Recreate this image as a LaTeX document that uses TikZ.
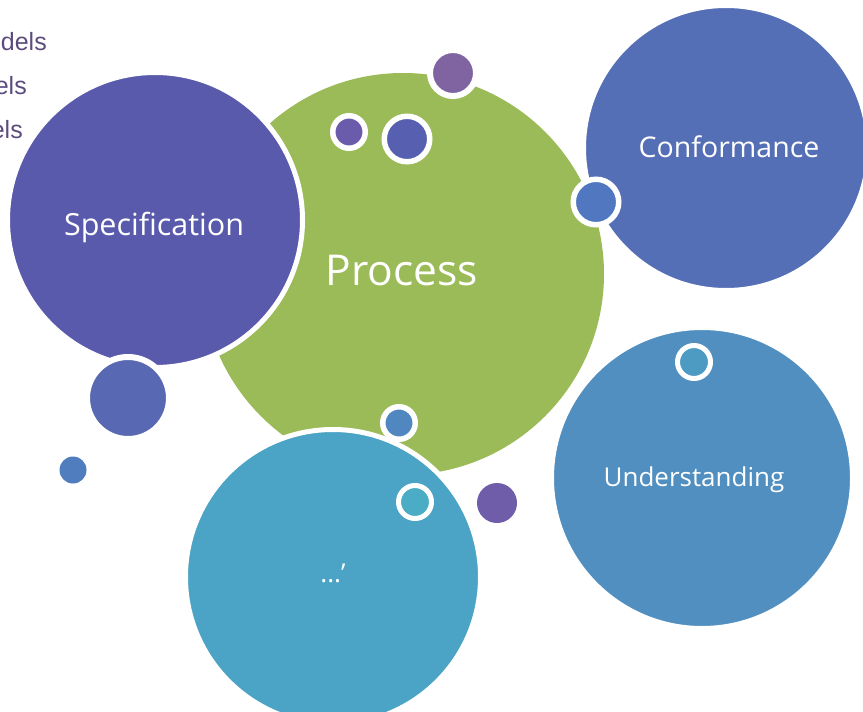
\documentclass[tikz,border=0pt]{standalone}
\usepackage{fontspec}
\setmainfont{Open Sans}
\newfontfamily\arialf{Liberation Sans}
\definecolor{cgreen}{RGB}{155,187,89}
\definecolor{cspec}{RGB}{90,90,172}
\definecolor{cconf}{RGB}{85,111,183}
\definecolor{cund}{RGB}{80,143,192}
\definecolor{cdots}{RGB}{75,163,197}
\definecolor{cbigdot}{RGB}{88,104,178}
\definecolor{csmalldot}{RGB}{80,125,190}
\definecolor{cpurpleA}{RGB}{128,100,162}
\definecolor{cpurpleB}{RGB}{107,91,171}
\definecolor{cblueA}{RGB}{87,96,176}
\definecolor{cblueB}{RGB}{80,119,191}
\definecolor{cblueC}{RGB}{80,135,192}
\definecolor{cteal}{RGB}{74,173,197}
\definecolor{cpurpleC}{RGB}{112,93,169}
\definecolor{cundsmall}{RGB}{77,154,194}
\definecolor{ctext}{RGB}{92,76,126}
\tikzset{
  bub/.style={circle, inner sep=0pt, outer sep=0pt, draw=white},
  lbl/.style={text=white, inner sep=0pt, anchor=base},
  side/.style={text=ctext, inner sep=0pt, anchor=base east, font=\arialf\fontsize{25}{30}\selectfont}
}
\begin{document}
\begin{tikzpicture}[x=1pt,y=-1pt]
\useasboundingbox (0,0) rectangle (863,712);
% side text
\node[side] (t1) at (47,50) {dels};
\node[side] (t2) at (27,94) {els};
\node[side] (t3) at (23,138) {els};
% big green
\node[bub, draw=none, fill=cgreen, minimum size=402pt] (proc) at (403,274) {};
% specification
\node[bub, fill=cspec, line width=5pt, minimum size=295pt] (spec) at (155,220) {};
% small circles on green
\node[bub, fill=cpurpleB, line width=5.5pt, minimum size=32.5pt] (s1) at (349,132) {};
\node[bub, fill=cblueA, line width=5.5pt, minimum size=45.5pt] (s2) at (407,139) {};
\node[bub, fill=cpurpleA, line width=6pt, minimum size=46pt] (s3) at (453,73) {};
% big dot below specification
\node[bub, fill=cbigdot, line width=6pt, minimum size=82pt] (s4) at (128,398) {};
\node[bub, draw=none, fill=csmalldot, minimum size=27pt] (s5) at (73,470) {};
% conformance
\node[bub, fill=cconf, line width=5pt, minimum size=285pt] (conf) at (726,148) {};
\node[bub, fill=cblueB, line width=5.5pt, minimum size=45.5pt] (s6) at (596,202) {};
% understanding
\node[bub, fill=cund, line width=5pt, minimum size=301pt] (und) at (702,478) {};
\node[bub, fill=cundsmall, line width=5pt, minimum size=33pt] (s7) at (694,362) {};
% dots circle
\node[bub, fill=cdots, line width=5pt, minimum size=295pt] (dots) at (333,577) {};
\node[bub, fill=cblueC, line width=5.5pt, minimum size=32.5pt] (s8) at (399,423) {};
\node[bub, fill=cteal, line width=5pt, minimum size=33pt] (s9) at (415,502) {};
\node[bub, draw=none, fill=cpurpleC, minimum size=40pt] (s10) at (497,503) {};
% labels
\node[lbl, font=\fontsize{30.5}{36}\selectfont] (lspec) at (154,235) {Specification};
\node[lbl, font=\fontsize{42.5}{50}\selectfont] (lproc) at (402,285) {Process};
\node[lbl, font=\fontsize{28.5}{34}\selectfont] (lconf) at (729,157) {Conformance};
\node[lbl, font=\fontsize{26}{31}\selectfont] (lund) at (694,486) {Understanding};
\node[lbl, font=\fontsize{26}{31}\selectfont] (ldots) at (333,582) {...’};
\end{tikzpicture}
\end{document}
